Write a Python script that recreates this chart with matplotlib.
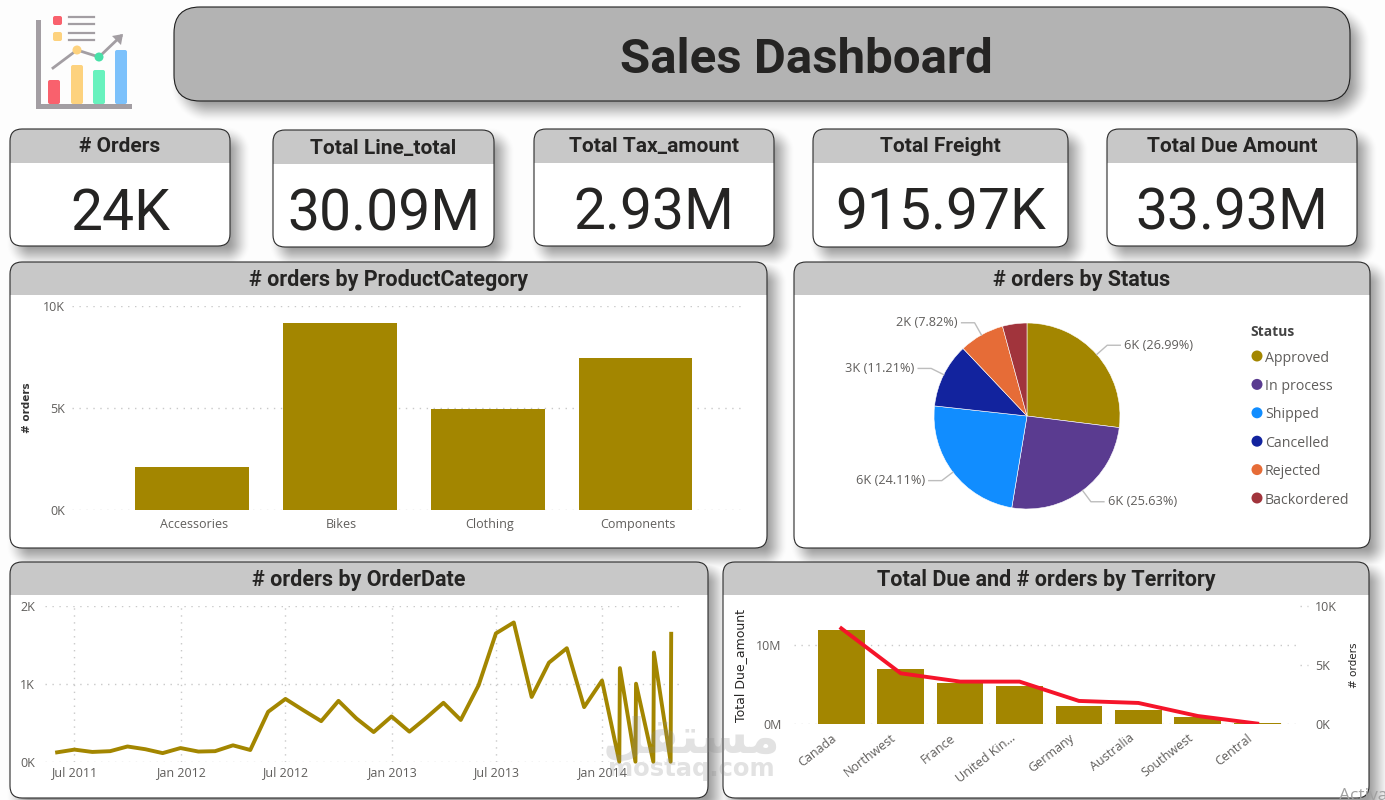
from datetime import date
import numpy as np
import matplotlib
matplotlib.use("Agg")
from matplotlib import pyplot as plt
from matplotlib.patches import FancyBboxPatch, Rectangle, Circle, Polygon
from matplotlib.transforms import ScaledTranslation
import matplotlib.dates as mdates
import warnings
warnings.filterwarnings("ignore", category=UserWarning)

W, H = 1385, 800
GOLD = '#a38600'
TITLE_FONT = ['Roboto', 'DejaVu Sans']
AXIS_FONT = ['Open Sans', 'DejaVu Sans']

kpi_titles = ['# Orders', 'Total Line_total', 'Total Tax_amount', 'Total Freight', 'Total Due Amount']
kpi_values = ['24K', '30.09M', '2.93M', '915.97K', '33.93M']

categories = ['Accessories', 'Bikes', 'Clothing', 'Components']
category_orders = [2100, 9170, 4950, 7450]

statuses = ['Approved', 'In process', 'Shipped', 'Cancelled', 'Rejected', 'Backordered']
status_pct = [26.99, 25.63, 24.11, 11.21, 7.82, 4.24]
status_labels = ['6K (26.99%)', '6K (25.63%)', '6K (24.11%)', '3K (11.21%)', '2K (7.82%)', None]
status_colors = [GOLD, '#5a3b90', '#118dff', '#12239e', '#e66c37', '#a1343c']

# monthly order counts, the last months also have a zero at the month end
order_dates = [
    date(2011, 6, 1), date(2011, 7, 1), date(2011, 8, 1), date(2011, 9, 1), date(2011, 10, 1),
    date(2011, 11, 1), date(2011, 12, 1), date(2012, 1, 1), date(2012, 2, 1), date(2012, 3, 1),
    date(2012, 4, 1), date(2012, 5, 1), date(2012, 6, 1), date(2012, 7, 1), date(2012, 8, 1),
    date(2012, 9, 1), date(2012, 10, 1), date(2012, 11, 1), date(2012, 12, 1), date(2013, 1, 1),
    date(2013, 2, 1), date(2013, 3, 1), date(2013, 4, 1), date(2013, 5, 1), date(2013, 6, 1),
    date(2013, 7, 1), date(2013, 8, 1), date(2013, 9, 1), date(2013, 10, 1), date(2013, 11, 1),
    date(2013, 12, 1), date(2014, 1, 1), date(2014, 1, 31), date(2014, 2, 1), date(2014, 2, 28),
    date(2014, 3, 1), date(2014, 3, 31), date(2014, 4, 1), date(2014, 4, 30), date(2014, 5, 1),
]
order_counts = [
    120, 155, 125, 135, 195, 160, 110, 175, 130, 135, 210, 150, 640, 805, 660, 520, 780, 555,
    380, 580, 385, 555, 755, 535, 980, 1645, 1785, 830, 1270, 1455, 700, 1040, 0, 1200, 0,
    1000, 0, 1400, 0, 1640,
]
date_ticks = [date(2011, 7, 1), date(2012, 1, 1), date(2012, 7, 1), date(2013, 1, 1), date(2013, 7, 1), date(2014, 1, 1)]

territories = ['Canada', 'Northwest', 'France', 'United Kin...', 'Germany', 'Australia', 'Southwest', 'Central']
territory_due = [11.97e6, 6.97e6, 5.2e6, 4.87e6, 2.31e6, 1.81e6, 0.97e6, 0.17e6]
territory_orders = [8090, 4300, 3600, 3600, 1970, 1800, 700, 60]


def axes_px(fig, left, top, right, bottom, **kw):
    return fig.add_axes([left / W, 1 - bottom / H, (right - left) / W, (bottom - top) / H], **kw)


def soft_shadow(boxes, dx=8, dy=9, blur=13, strength=0.4):
    # rounded box distance field, faded out over the blur width
    yy, xx = np.mgrid[0:H, 0:W]
    alpha = np.zeros((H, W))
    for x0, y0, x1, y1, r in boxes:
        cx, cy = (x0 + x1) / 2 + dx, (y0 + y1) / 2 + dy
        qx = np.abs(xx - cx) - (x1 - x0) / 2 + r
        qy = np.abs(yy - cy) - (y1 - y0) / 2 + r
        dist = np.hypot(np.maximum(qx, 0), np.maximum(qy, 0)) + np.minimum(np.maximum(qx, qy), 0) - r
        t = np.clip(0.5 - dist / (2 * blur), 0, 1)
        alpha = np.maximum(alpha, strength * t * t * (3 - 2 * t))
    img = np.zeros((H, W, 4))
    img[..., 3] = alpha
    return img


def draw_panel(bg, box, band_bottom, title, size, radius=12):
    x0, y0, x1, y1 = box
    style = 'round,pad=0,rounding_size=%d' % radius
    face = FancyBboxPatch((x0, y0), x1 - x0, y1 - y0, boxstyle=style, fc='white', ec='none', zorder=2)
    bg.add_patch(face)
    band = Rectangle((x0, y0), x1 - x0, band_bottom - y0, fc='#c8c8c8', ec='none', zorder=3)
    bg.add_patch(band)
    band.set_clip_path(face)
    bg.add_patch(FancyBboxPatch((x0, y0), x1 - x0, y1 - y0, boxstyle=style, fc='none', ec='#2b2b2b', lw=0.8, zorder=4))
    bg.text((x0 + x1) / 2, (y0 + band_bottom) / 2 - 1, title, ha='center', va='center_baseline', fontsize=size,
            fontweight='bold', family=TITLE_FONT, color='#252423', zorder=5)


def draw_logo(bg):
    gray = '#a39ea3'
    bg.add_patch(Rectangle((36, 20), 5, 89, fc=gray, ec='none', zorder=2))
    bg.add_patch(Rectangle((36, 104), 96, 5, fc=gray, ec='none', zorder=2))
    for x, top, c in [(48, 80, '#f9616d'), (71, 65, '#fdd27e'), (93, 70, '#68f2be'), (115, 50, '#7cc1fb')]:
        bg.add_patch(FancyBboxPatch((x, top), 12, 104 - top, boxstyle='round,pad=0,rounding_size=2', fc=c, ec='none', zorder=3))
    for y, c in [(16, '#f9616d'), (32, '#fdd27e')]:
        bg.add_patch(FancyBboxPatch((53, y), 9, 9, boxstyle='round,pad=0,rounding_size=2', fc=c, ec='none', zorder=3))
        bg.plot([69, 94], [y + 1, y + 1], color=gray, lw=1.6, zorder=3)
        bg.plot([69, 94], [y + 8, y + 8], color=gray, lw=1.6, zorder=3)
    bg.plot([53, 77, 99, 121], [68, 50, 57, 36], color=gray, lw=2, zorder=3)
    bg.add_patch(Polygon([[123, 34], [112, 36], [121, 45]], fc=gray, ec='none', zorder=3))
    bg.add_patch(Circle((77, 50), 4.5, fc='#fdd27e', ec='none', zorder=4))
    bg.add_patch(Circle((99, 57), 4.5, fc='#48e0a8', ec='none', zorder=4))


def style_axes(ax, grid_axis='y'):
    ax.patch.set_alpha(0)
    for s in ax.spines.values():
        s.set_visible(False)
    ax.tick_params(length=0, labelsize=9, labelcolor='#605e5c')
    ax.grid(True, axis=grid_axis, color='#c9c9c9', lw=1.0, linestyle=(0, (1, 4)))
    ax.set_axisbelow(True)
    for t in ax.get_xticklabels() + ax.get_yticklabels():
        t.set_family(AXIS_FONT)


fig = plt.figure(figsize=(W / 100, H / 100), dpi=100, facecolor='#fdfdfd')
bg = fig.add_axes([0, 0, 1, 1])
bg.set_xlim(0, W)
bg.set_ylim(H, 0)
bg.axis('off')

kpi_boxes = [(10, 129, 230, 246), (273, 130, 494, 247), (534, 129, 774, 246), (813, 129, 1068, 247), (1107, 129, 1357, 246)]
panels = [(10, 262, 767, 548), (794, 262, 1370, 548), (10, 562, 708, 798), (723, 562, 1369, 798)]
header = (174, 7, 1350, 101)
shadow_boxes = [header + (26,)] + [b + (12,) for b in kpi_boxes + panels]
bg.imshow(soft_shadow(shadow_boxes), extent=(0, W, H, 0), aspect='auto', zorder=1, interpolation='bilinear')
bg.set_xlim(0, W)
bg.set_ylim(H, 0)

draw_logo(bg)

bg.add_patch(FancyBboxPatch((header[0], header[1]), header[2] - header[0], header[3] - header[1],
                            boxstyle='round,pad=0,rounding_size=26', fc='#b3b3b3', ec='#1f1f1f', lw=0.8, zorder=2))
bg.text(806, 55, 'Sales Dashboard', ha='center', va='center_baseline', fontsize=35.5, fontweight='bold',
        family=TITLE_FONT, color='#252423', zorder=5)

for box, title, value in zip(kpi_boxes, kpi_titles, kpi_values):
    draw_panel(bg, box, box[1] + 34, title, 15)
    bg.text((box[0] + box[2]) / 2, box[1] + 79, value, ha='center', va='center_baseline', fontsize=41,
            family=TITLE_FONT, color='#252423', zorder=5)

draw_panel(bg, panels[0], 295, '# orders by ProductCategory', 15.5)
draw_panel(bg, panels[1], 295, '# orders by Status', 15.5)
draw_panel(bg, panels[2], 595, '# orders by OrderDate', 15.5)
draw_panel(bg, panels[3], 595, 'Total Due and # orders by Territory', 15.5)

# orders per product category
ax1 = axes_px(fig, 72, 306, 745, 510)
ax1.bar(categories, category_orders, width=0.77, color=GOLD)
ax1.set_xlim(-0.81, 3.74)
ax1.set_ylim(0, 10000)
ax1.set_yticks([0, 5000, 10000], ['0K', '5K', '10K'])
style_axes(ax1)
ax1.tick_params(axis='x', pad=6)
ax1.tick_params(axis='y', pad=5)
ax1.set_ylabel('# orders', fontsize=7.5, fontweight='bold', color='#333333')
ax1.yaxis.set_label_coords(-40 / 673, 0.5)
shift_x = ScaledTranslation(2 / 100, 0, fig.dpi_scale_trans)
for t in ax1.get_xticklabels():
    t.set_transform(t.get_transform() + shift_x)

# orders per status
ax2 = axes_px(fig, 1027 - 186, 416 - 140, 1027 + 186, 416 + 140)
wedges, _ = ax2.pie(status_pct, colors=status_colors, startangle=90, counterclock=False, radius=1,
                    wedgeprops={'edgecolor': 'white', 'linewidth': 0.4})
ax2.set_xlim(-2, 2)
ax2.set_ylim(-140 / 93, 140 / 93)
ax2.axis('off')
for wedge, label in zip(wedges, status_labels):
    if label is None:
        continue
    ang = np.deg2rad((wedge.theta1 + wedge.theta2) / 2)
    ex, ey = np.cos(ang), np.sin(ang)
    side = 1 if ex > 0 else -1
    ax2.plot([ex, 1.15 * ex, 1.15 * ex + side * 0.14], [ey, 1.15 * ey, 1.15 * ey], color='#bdbdbd', lw=1.0, clip_on=False)
    ax2.text(1.15 * ex + side * 0.18, 1.15 * ey, label, ha='left' if side > 0 else 'right', va='center',
             fontsize=9.2, family=AXIS_FONT, color='#605e5c', clip_on=False)

bg.text(1250, 332, 'Status', ha='left', va='center', fontsize=10, fontweight='bold', family=AXIS_FONT, color='#444444', zorder=5)
for i, (name, c) in enumerate(zip(statuses, status_colors)):
    y = 356 + i * 28.4
    bg.add_patch(Circle((1257, y), 5.5, fc=c, ec='none', zorder=5))
    bg.text(1265, y + 2, name, ha='left', va='center', fontsize=10.2, family=AXIS_FONT, color='#605e5c', zorder=5)

# orders over time
ax3 = axes_px(fig, 45, 605.7, 681, 761.7)
ax3.plot(order_dates, order_counts, color=GOLD, lw=2.8, solid_joinstyle='round', clip_on=False)
ax3.set_xlim(date(2011, 5, 11), date(2014, 5, 18))
ax3.set_ylim(0, 2000)
ax3.set_yticks([0, 1000, 2000], ['0K', '1K', '2K'])
ax3.set_xticks(mdates.date2num(date_ticks), [d.strftime('%b %Y') for d in date_ticks])
style_axes(ax3, 'both')
ax3.tick_params(axis='x', pad=3.5)
ax3.tick_params(axis='y', pad=7)

# total due and orders per territory
ax4 = axes_px(fig, 794, 605.7, 1300, 724.3)
x = np.arange(len(territories))
ax4.bar(x, territory_due, width=0.785, color=GOLD)
ax4.set_xlim(-0.796, 7.72)
ax4.set_ylim(0, 15e6)
ax4.set_yticks([0, 10e6], ['0M', '10M'])
ax4.set_xticks(x, territories)
style_axes(ax4)
ax4.tick_params(axis='y', pad=9)
ax4.tick_params(axis='x', pad=3)
shift_label = ScaledTranslation(-10 / 100, -3 / 100, fig.dpi_scale_trans)
for t in ax4.get_xticklabels():
    t.set_rotation(38)
    t.set_ha('right')
    t.set_rotation_mode('anchor')
    t.set_transform(t.get_transform() + shift_label)
ax4.set_ylabel('Total Due_amount', fontsize=9, color='#252423')
ax4.yaxis.set_label_coords(-47 / 506, 0.5)

ax5 = ax4.twinx()
ax5.plot(x, territory_orders, color='#f5142a', lw=2.8, solid_joinstyle='round')
ax5.set_ylim(0, 10000)
ax5.set_yticks([0, 5000, 10000], ['0K', '5K', '10K'])
ax5.patch.set_alpha(0)
for s in ax5.spines.values():
    s.set_visible(False)
ax5.tick_params(length=0, labelsize=9, labelcolor='#605e5c', pad=11)
for t in ax5.get_yticklabels():
    t.set_family(AXIS_FONT)
ax5.hlines([5000, 10000], 7.72, 7.85, color='#c9c9c9', lw=1.0, linestyle=(0, (1, 4)), clip_on=False)
ax5.set_xlim(-0.796, 7.72)
ax5.set_ylabel('# orders', fontsize=7.5, color='#252423')
ax5.yaxis.set_label_coords(1 + 49 / 506, 0.5)

# overlay text on top of everything
top = fig.add_axes([0, 0, 1, 1], zorder=10)
top.set_xlim(0, W)
top.set_ylim(H, 0)
top.axis('off')
top.text(691, 738, '\ufede\ufed8\ufe98\ufeb4\ufee3', ha='center', va='center', fontsize=35, fontweight='bold',
         family='DejaVu Sans', color='#8c8c8c', alpha=0.25)
top.text(691, 769, 'mostaq.com', ha='center', va='center', fontsize=17.5, fontweight='bold',
         family='DejaVu Sans', color='#8c8c8c', alpha=0.25)
top.text(1339, 796, 'Activat', ha='left', va='center', fontsize=12.5, family=AXIS_FONT, color='#a0a0a0')

fig.savefig('out.png', dpi=100, facecolor=fig.get_facecolor())
